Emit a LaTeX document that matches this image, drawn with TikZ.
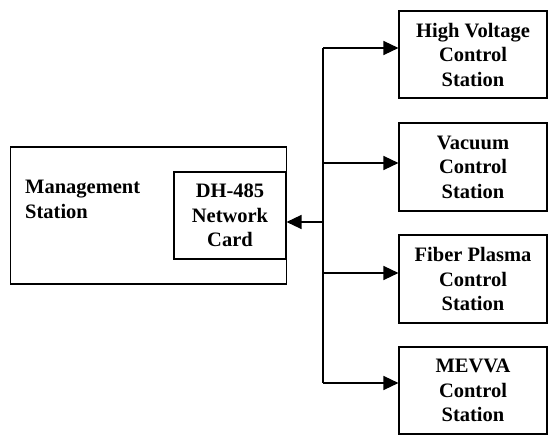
\documentclass[tikz,border=0pt]{standalone}
\usepackage{fontspec}
\setmainfont{Liberation Serif}
\usetikzlibrary{arrows.meta}

\tikzset{
  box/.style={draw, line width=1.1pt, align=center, inner sep=0pt,
    font=\bfseries\fontsize{20.5}{24.5}\selectfont},
  arr/.style={line width=1.3pt, -{Triangle[length=15pt,width=14pt]}},
}

\begin{document}
\begin{tikzpicture}[x=1pt, y=-1pt]
\useasboundingbox (0,0) rectangle (548,435);

\node[box, minimum width=276pt, minimum height=137pt] (mgmt) at (148.5, 215.5) {};
\node[anchor=north west, inner sep=0pt, align=left,
  font=\bfseries\fontsize{20.5}{24.5}\selectfont] (mgmtlbl) at (25, 180) {Management\\Station};
\node[box, minimum width=112pt, minimum height=87pt] (card) at (230, 215.5) {DH-485\\Network\\Card};

\node[box, minimum width=148pt, minimum height=87pt] (hv)  at (473, 54.5)  {High Voltage\\Control\\Station};
\node[box, minimum width=148pt, minimum height=88pt] (vac) at (473, 167)   {Vacuum\\Control\\Station};
\node[box, minimum width=148pt, minimum height=88pt] (fp)  at (473, 279)   {Fiber Plasma\\Control\\Station};
\node[box, minimum width=148pt, minimum height=87pt] (mev) at (473, 390.5) {MEVVA\\Control\\Station};

% bus
\coordinate (j1) at (323, 48);
\coordinate (jc) at (323, 222);
\coordinate (j2) at (323, 163);
\coordinate (j3) at (323, 273);
\coordinate (j4) at (323, 383);

\draw[line width=1.3pt] (j1) -- (j4);
\draw[arr] (j1) -- (j1 -| hv.west);
\draw[arr] (j2) -- (j2 -| vac.west);
\draw[arr] (j3) -- (j3 -| fp.west);
\draw[arr] (j4) -- (j4 -| mev.west);
\draw[arr] (jc) -- (jc -| card.east);
\end{tikzpicture}
\end{document}
